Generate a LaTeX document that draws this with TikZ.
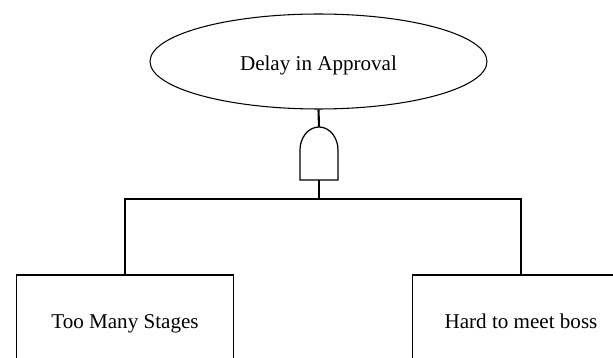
\documentclass[tikz,border=0pt]{standalone}
\usepackage{fontspec}
\setmainfont{Liberation Serif}
\usetikzlibrary{shapes.geometric}
\begin{document}
\begin{tikzpicture}[%
    x=0.02cm,y=-0.02cm,%
    event/.style={draw,ellipse,line width=0.6pt,minimum width=6.74cm,minimum height=1.9cm,%
        text height=1.25em,text depth=0.22em,font=\fontsize{12}{14}\selectfont},%
    basic/.style={draw,rectangle,line width=0.6pt,minimum width=4.34cm,minimum height=1.88cm,%
        text height=0.96em,text depth=0.22em,font=\fontsize{12}{14}\selectfont},%
    gatestyle/.style={draw,line width=0.7pt},%
    stem/.style={draw,line width=1.2pt},%
    wire/.style={draw,line width=0.6pt},%
]%
    \clip (0,0) rectangle (613,358);

    % top event
    \node[event] (delay) at (318.5,61.5) {Delay in Approval};

    % AND gate
    \coordinate (gatein) at (319,127);
    \coordinate (gateout) at (319,180);
    \path[gatestyle] (300,180) -- (300,150) arc (180:360:19 and 23) -- (338,180) -- cycle;
    \path[stem] (delay.south) -- (gatein);
    \path[stem] (gateout) -- (319,199) coordinate (bar);

    % basic events
    \node[basic] (stages) at (125,322) {Too Many Stages};
    \node[basic] (boss) at (521,322) {Hard to meet boss};

    \path[wire] (stages.north) |- (bar) -| (boss.north);
\end{tikzpicture}
\end{document}
